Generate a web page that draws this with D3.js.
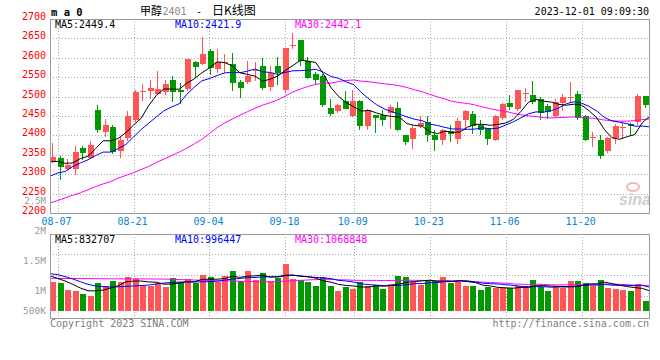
<!DOCTYPE html>
<html><head><meta charset="utf-8">
<script src="https://cdn.jsdelivr.net/npm/d3@7"></script>
<style>body{margin:0;background:#fff}svg{display:block}</style>
</head><body><svg id="c" width="660" height="360"></svg>
<script>
// ---------- data ----------
const dates = ["08-04","08-07","08-08","08-09","08-10","08-11","08-14","08-15","08-16","08-17","08-18",
"08-21","08-22","08-23","08-24","08-25","08-28","08-29","08-30","08-31","09-01",
"09-04","09-05","09-06","09-07","09-08","09-11","09-12","09-13","09-14","09-15",
"09-18","09-19","09-20","09-21","09-22","09-25","09-26","09-27","09-28",
"10-09","10-10","10-11","10-12","10-13","10-16","10-17","10-18","10-19","10-20",
"10-23","10-24","10-25","10-26","10-27","10-30","10-31","11-01","11-02","11-03",
"11-06","11-07","11-08","11-09","11-10","11-13","11-14","11-15","11-16","11-17",
"11-20","11-21","11-22","11-23","11-24","11-27","11-28","11-29","11-30","12-01"];
const open  = [2333,2342,2314,2313,2368,2343,2465,2410,2422,2359,2394,2440,2512,2514,2507,2513,2542,2518,2520,2590,
2584,2618,2572,2586,2583,2537,2537,2566,2578,2525,2578,2516,2630,2647,2593,2557,2553,2470,2463,2488,
2450,2488,2423,2452,2452,2457,2470,2400,2391,2423,2434,2401,2388,2411,2391,2440,2455,2427,2418,2388,
2444,2484,2467,2508,2503,2495,2475,2450,2484,2498,2506,2450,2394,2388,2359,2394,2420,2429,2435,2501];
const high  = [2380,2348,2339,2373,2373,2386,2478,2443,2428,2397,2463,2516,2532,2544,2565,2542,2552,2535,2598,2592,
2654,2623,2623,2610,2613,2544,2593,2589,2599,2578,2603,2625,2664,2647,2603,2563,2559,2493,2480,2514,
2518,2490,2467,2453,2465,2478,2486,2400,2427,2450,2449,2414,2416,2428,2446,2465,2463,2440,2420,2452,
2484,2503,2518,2523,2539,2499,2480,2495,2506,2537,2514,2452,2410,2401,2397,2429,2431,2431,2506,2501];
const low   = [2330,2285,2312,2297,2337,2341,2405,2397,2352,2341,2385,2435,2489,2495,2503,2503,2486,2482,2515,2550,
2582,2556,2560,2560,2515,2497,2533,2540,2518,2515,2530,2510,2623,2578,2545,2530,2474,2450,2457,2467,
2448,2414,2414,2406,2423,2417,2411,2376,2366,2418,2384,2361,2374,2384,2378,2417,2404,2400,2376,2386,
2440,2465,2462,2486,2480,2440,2441,2448,2462,2484,2440,2385,2369,2340,2354,2378,2391,2400,2428,2471];
const close = [2345,2318,2325,2358,2355,2376,2415,2427,2356,2388,2450,2512,2514,2521,2519,2532,2512,2511,2598,2576,
2611,2573,2590,2588,2535,2521,2552,2568,2523,2561,2561,2625,2632,2591,2548,2543,2478,2455,2478,2469,
2488,2423,2465,2444,2440,2472,2414,2382,2420,2431,2401,2388,2414,2404,2438,2463,2424,2414,2391,2450,
2480,2472,2516,2510,2486,2457,2461,2486,2499,2500,2444,2387,2396,2348,2394,2425,2421,2423,2502,2478];
const volume = [1208000,1167000,875000,833000,708000,625000,1167000,1028000,1250000,1208000,
1417000,1333000,1042000,1042000,1167000,1000000,1375000,1208000,1333000,1167000,
1500000,1417000,1208000,1458000,1667000,1250000,1667000,1292000,1583000,1250000,
1375000,1958000,1333000,1292000,1208000,1042000,1417000,1042000,833000,1000000,
917000,1208000,1042000,1083000,917000,1125000,1458000,1417000,1208000,1083000,
1250000,1250000,1417000,1167000,1250000,1042000,1042000,875000,1000000,958000,
958000,958000,1042000,1000000,1292000,1000000,833000,1000000,958000,1250000,
1250000,1167000,1042000,1292000,958000,917000,875000,833000,1125000,417000];
// moving-average values before enough history exists
const ma5Head  = [2332,2333,2328,2329];
const ma10Head = [2295,2303,2307,2320,2329,2337,2348,2357,2357];
const ma30Head = [2226,2232,2239,2246,2252,2260,2268,2275,2281,2290,2297,2304,2312,2320,2330,2339,2348,2357,2367,2378,
2390,2405,2420,2432,2442,2452,2461,2470,2478];
const vma5Head  = [1470000,1360000,1250000,1110000];
const vma10Head = [1556000,1514000,1430000,1333000,1222000,1111000,1042000,1014000,1000000];
const vma30Head = [1360000,1360000,1355000,1355000,1350000,1350000,1345000,1345000,1340000,1340000,1340000,1340000,1338000,1335000,1332000,
1330000,1320000,1310000,1300000,1290000,1280000,1270000,1260000,1255000,1250000,1240000,1232000,1225000,1220000];
const priceTicks = [2200,2250,2300,2350,2400,2450,2500,2550,2600,2650,2700];
const volTicks = [500000,1000000,1500000,2000000,2500000];
const volTickLabels = ["500K","1M","1.5M","2M","2.5M"];
const dateTicks = ["08-07","08-21","09-04","09-18","10-09","10-23","11-06","11-20"];
const mainLegend = ["MA5:2449.4","MA10:2421.9","MA30:2442.1"];
const volLegend  = ["MA5:832707","MA10:996447","MA30:1068848"];
const maColors = ["#000000","#0000ff","#ff00ff"];

// ---------- helpers ----------
function movingAvg(arr, n, head){
  return arr.map((_, i) => i < n - 1 ? head[i] : d3.mean(arr.slice(i - n + 1, i + 1)));
}
const N = close.length;
const L = 50, R = 650;
const MT = 19, MB = 213;       // main panel
const VT = 234, VB = 318;      // volume panel
const VBASE = 311;             // volume bars baseline
const MONO = "'DejaVu Sans Mono', monospace";
const UP = "#ff5555", DOWN = "#009a00";

const xBar = d3.scaleLinear().domain([0, N]).range([L, R]);       // bar slots
const xLine = d3.scaleLinear().domain([0, N - 1]).range([L, R]);  // lines and grid
const yP = d3.scaleLinear().domain([2200, 2700]).range([MB, MT]);
const yV = d3.scaleLinear().domain([0, 3200000]).range([VBASE, VBASE - 76.8]);
const yVLab = d3.scaleLinear().domain([500000, 2500000]).range([321, 201]);

const svg = d3.select("#c");
const defs = svg.append("defs");
defs.append("clipPath").attr("id","cm").append("rect").attr("x",L).attr("y",MT).attr("width",R-L).attr("height",MB-MT);
defs.append("clipPath").attr("id","cv").append("rect").attr("x",L).attr("y",VT).attr("width",R-L).attr("height",VB-VT);

const px = v => Math.round(v) + 0.5;
const gridColor = "#aaaaaa";

// ---------- grids ----------
const grid = svg.append("g").attr("stroke", gridColor).attr("stroke-dasharray","1,2").attr("stroke-width",1);
dateTicks.forEach(d => {
  const x = px(xLine(dates.indexOf(d)));
  grid.append("line").attr("x1",x).attr("x2",x).attr("y1",MT).attr("y2",MB);
  grid.append("line").attr("x1",x).attr("x2",x).attr("y1",VT).attr("y2",VB);
});
priceTicks.slice(1, -1).forEach(p => {
  const y = px(yP(p));
  grid.append("line").attr("x1",L).attr("x2",R).attr("y1",y).attr("y2",y);
});
[1,2,3].forEach(k => {
  const y = px(VT + (VB - VT) * k / 4 - 1);
  grid.append("line").attr("x1",L).attr("x2",R).attr("y1",y).attr("y2",y);
});

// ---------- watermark ----------
const wm = svg.append("g");
wm.append("ellipse").attr("cx",633).attr("cy",187).attr("rx",6).attr("ry",4).attr("fill","none").attr("stroke","#f3b8b8").attr("stroke-width",2);
wm.append("text").attr("x",619).attr("y",205).attr("font-family","'Liberation Sans',Arial,sans-serif")
  .attr("font-style","italic").attr("font-weight","bold").attr("font-size",16).attr("fill","#cfcfcf").text("sina");

// ---------- candles ----------
const gC = svg.append("g").attr("clip-path","url(#cm)");
for (let i = 0; i < N; i++) {
  const x0 = Math.round(xBar(i));
  const up = close[i] >= open[i];
  const col = up ? UP : DOWN;
  const yh = Math.round(yP(high[i])), yl = Math.round(yP(low[i]));
  gC.append("rect").attr("x", x0 + 2).attr("y", yh).attr("width",1).attr("height", Math.max(1, yl - yh)).attr("fill", col);
  const yt = Math.round(yP(Math.max(open[i], close[i]))), yb = Math.round(yP(Math.min(open[i], close[i])));
  gC.append("rect").attr("x", x0).attr("y", yt).attr("width", 6).attr("height", Math.max(1, yb - yt)).attr("fill", col);
}
// MA lines main
const mas = [movingAvg(close,5,ma5Head), movingAvg(close,10,ma10Head), movingAvg(close,30,ma30Head)];
const lineP = d3.line().x((d,i) => xLine(i)).y(d => yP(d));
[2,1,0].forEach(k => {
  gC.append("path").attr("d", lineP(mas[k])).attr("fill","none").attr("stroke", maColors[k]).attr("stroke-width",1);
});

// ---------- volume ----------
const gV = svg.append("g").attr("clip-path","url(#cv)");
for (let i = 0; i < N; i++) {
  const x0 = Math.round(xBar(i));
  const yt = Math.round(yV(volume[i]));
  gV.append("rect").attr("x", x0).attr("y", yt).attr("width", 6).attr("height", VBASE - yt)
    .attr("fill", close[i] >= open[i] ? UP : DOWN);
}
const vmas = [movingAvg(volume,5,vma5Head), movingAvg(volume,10,vma10Head), movingAvg(volume,30,vma30Head)];
const lineV = d3.line().x((d,i) => xLine(i)).y(d => yV(d));
[2,1,0].forEach(k => {
  gV.append("path").attr("d", lineV(vmas[k])).attr("fill","none").attr("stroke", maColors[k]).attr("stroke-width",1);
});

// ---------- frames ----------
const fr = svg.append("g").attr("fill","none").attr("stroke","#999").attr("stroke-width",1);
fr.append("rect").attr("x",L+0.5).attr("y",MT+0.5).attr("width",R-L-1).attr("height",MB-MT);
fr.append("rect").attr("x",L+0.5).attr("y",VT+0.5).attr("width",R-L-1).attr("height",VB-VT);

// ---------- axes labels ----------
const t = svg.append("g").attr("font-family", MONO).attr("font-size", 10);
priceTicks.forEach(p => {
  t.append("text").attr("x",46).attr("y", yP(p) + 1).attr("text-anchor","end").attr("fill","#ff0000").text(p);
});
volTicks.forEach((v, k) => {
  const top = v === 2500000;
  t.append("text").attr("x",46).attr("y", Math.min(VBASE, yVLab(v)) + 3).attr("text-anchor","end")
    .attr("font-size", top ? 9 : 9.5).attr("fill","#999").text(volTickLabels[k]);
});
dateTicks.forEach(d => {
  t.append("text").attr("x", xLine(dates.indexOf(d)) - 1).attr("y",225).attr("text-anchor","middle")
    .attr("fill","#0a84d0").text(d);
});
// legends
mainLegend.forEach((s,k) => t.append("text").attr("x",55 + 120*k).attr("y",27.5).attr("fill",maColors[k]).text(s));
volLegend.forEach((s,k) => t.append("text").attr("x",55 + 120*k).attr("y",242.5).attr("fill",maColors[k]).text(s));

// header
t.append("text").attr("x",51).attr("y",16).attr("font-weight","bold").attr("font-size",10.5).attr("fill","#000").text("m a 0");
const title = svg.append("text").attr("y",15).attr("font-size",12);
title.append("tspan").attr("x",140).attr("font-family","'Noto Sans CJK SC',sans-serif").attr("font-size",11).attr("fill","#000").text("甲醇");
title.append("tspan").attr("x",162.5).attr("font-family",MONO).attr("font-size",10).attr("fill","#888").text("2401");
title.append("tspan").attr("x",196).attr("font-family",MONO).attr("font-size",10).attr("fill","#000").text("-");
title.append("tspan").attr("x",212).attr("font-family","'Noto Sans CJK SC',sans-serif").attr("font-size",12).attr("fill","#000").text("日K线图");
t.append("text").attr("x",649).attr("y",15).attr("text-anchor","end").attr("fill","#000").text("2023-12-01 09:09:30");
// footer
t.append("text").attr("x",50).attr("y",327).attr("fill","#808080").text("Copyright 2023 SINA.COM");
t.append("text").attr("x",649).attr("y",327).attr("text-anchor","end").attr("fill","#808080").text("http://finance.sina.com.cn");
</script></body></html>
